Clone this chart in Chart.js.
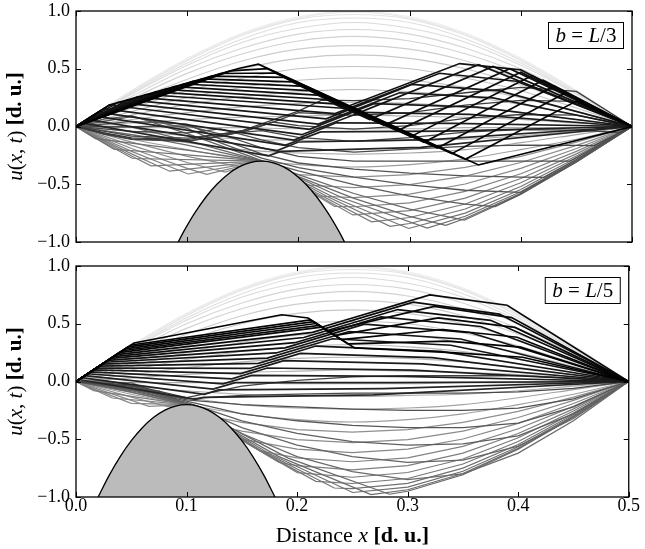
<!DOCTYPE html>
<html><head><meta charset="utf-8">
<script src="https://cdn.jsdelivr.net/npm/chart.js@4.4.0/dist/chart.umd.min.js"></script>
<style>
html,body{margin:0;padding:0;background:#fff}
#wrap{position:relative;width:645px;height:549px;background:#fff}
.pane{position:absolute;left:0;width:645px}
</style></head>
<body><div id="wrap">
<div class="pane" style="top:0;height:256px"><canvas id="c1" width="645" height="256"></canvas></div>
<div class="pane" style="top:255px;height:294px"><canvas id="c2" width="645" height="294"></canvas></div>
</div>
<script>
// ---------------- DATA ----------------
const xTickValues = [0, 0.1, 0.2, 0.3, 0.4, 0.5];
const xTickLabels = ['0.0', '0.1', '0.2', '0.3', '0.4', '0.5'];
const yTickValues = [-1, -0.5, 0, 0.5, 1];
const yTickLabels = ['\u22121.0', '\u22120.5', '0.0', '0.5', '1.0'];
const panelLabels = ['L/3', 'L/5'];

// early snapshots: standing half-sine arches (same in both panels)
const xGrid = [0, 0.05, 0.1, 0.15, 0.2, 0.25, 0.3, 0.35, 0.4, 0.45, 0.5];
const archY = [
  [0,.31,.59,.81,.95,1,.95,.81,.59,.31,0],
  [0,.31,.58,.80,.94,.99,.94,.80,.58,.31,0],
  [0,.30,.57,.79,.93,.97,.93,.79,.57,.30,0],
  [0,.29,.55,.76,.90,.94,.90,.76,.55,.29,0],
  [0,.28,.53,.73,.85,.90,.85,.73,.53,.28,0],
  [0,.26,.50,.68,.80,.84,.80,.68,.50,.26,0],
  [0,.24,.46,.63,.74,.78,.74,.63,.46,.24,0],
  [0,.22,.41,.57,.67,.70,.67,.57,.41,.22,0],
  [0,.19,.36,.50,.59,.62,.59,.50,.36,.19,0],
  [0,.16,.31,.42,.50,.52,.50,.42,.31,.16,0],
  [0,.13,.25,.34,.40,.42,.40,.34,.25,.13,0],
  [0,.10,.19,.26,.30,.32,.30,.26,.19,.10,0],
  [0,.06,.12,.17,.20,.21,.20,.17,.12,.06,0],
  [0,.03,.06,.08,.09,.10,.09,.08,.06,.03,0],
  [0,-.01,-.01,-.01,-.02,-.02,-.02,-.01,-.01,-.01,0],
  [0,-.04,-.08,-.11,-.12,-.13,-.12,-.11,-.08,-.04,0],
  [0,-.07,-.14,-.20,-.23,-.24,-.23,-.20,-.14,-.07,0],
  [0,-.11,-.20,-.28,-.33,-.35,-.33,-.28,-.20,-.11,0]
];

// top panel (b = L/3): string held on the obstacle tip
const topPinned = [
  [[0,0],[0.05,-0.135],[0.1,-0.258],[0.151,-0.356],[0.167,-0.3],[0.1825,-0.399],[0.2,-0.417],[0.25,-0.438],[0.3,-0.417],[0.35,-0.354],[0.4,-0.258],[0.45,-0.135],[0.5,0]],
  [[0,0],[0.05,-0.164],[0.1,-0.312],[0.134,-0.395],[0.167,-0.3],[0.199,-0.503],[0.25,-0.53],[0.3,-0.504],[0.35,-0.429],[0.4,-0.312],[0.45,-0.164],[0.5,0]],
  [[0,0],[0.05,-0.19],[0.1,-0.362],[0.1175,-0.415],[0.167,-0.3],[0.191,-0.452],[0.216,-0.602],[0.25,-0.616],[0.3,-0.586],[0.35,-0.498],[0.4,-0.362],[0.45,-0.19],[0.5,0]],
  [[0,0],[0.05,-0.215],[0.1008,-0.411],[0.167,-0.3],[0.2,-0.502],[0.2325,-0.691],[0.25,-0.695],[0.3,-0.661],[0.35,-0.562],[0.4,-0.409],[0.45,-0.215],[0.5,0]],
  [[0,0],[0.05,-0.237],[0.0842,-0.387],[0.167,-0.3],[0.208,-0.543],[0.249,-0.766],[0.3,-0.728],[0.35,-0.62],[0.4,-0.45],[0.45,-0.237],[0.5,0]],
  [[0,0],[0.05,-0.256],[0.0675,-0.341],[0.167,-0.3],[0.216,-0.574],[0.2658,-0.825],[0.3,-0.788],[0.35,-0.671],[0.4,-0.487],[0.45,-0.256],[0.5,0]],
  [[0,0],[0.025,-0.138],[0.0509,-0.277],[0.167,-0.3],[0.225,-0.602],[0.2825,-0.865],[0.3,-0.84],[0.35,-0.714],[0.4,-0.519],[0.45,-0.273],[0.5,0]],
  [[0,0],[0.034,-0.197],[0.1,-0.245],[0.167,-0.3],[0.233,-0.619],[0.2992,-0.883],[0.35,-0.75],[0.4,-0.545],[0.45,-0.286],[0.5,0]],
  [[0,0],[0.0175,-0.105],[0.1,-0.205],[0.167,-0.3],[0.241,-0.623],[0.3158,-0.88],[0.35,-0.777],[0.4,-0.565],[0.45,-0.297],[0.5,0]],
  [[0,0],[0.05,-0.071],[0.1,-0.161],[0.15,-0.265],[0.167,-0.3],[0.2,-0.434],[0.25,-0.622],[0.3,-0.778],[0.3325,-0.855],[0.35,-0.797],[0.4,-0.579],[0.45,-0.304],[0.5,0]],
  [[0,0],[0.05,-0.006],[0.1,-0.122],[0.15,-0.254],[0.167,-0.3],[0.2,-0.417],[0.25,-0.58],[0.3,-0.716],[0.3492,-0.811],[0.4,-0.587],[0.45,-0.308],[0.5,0]]
];
// top panel: string released from the obstacle
const topRelease = [
  [[0,0],[0.025,0.064],[0.05,0.094],[0.1,-0.061],[0.13,-0.166],[0.167,-0.295],[0.2,-0.385],[0.25,-0.504],[0.3,-0.602],[0.35,-0.672],[0.377,-0.694],[0.4,-0.585],[0.45,-0.307],[0.5,0]],
  [[0,0],[0.025,0.044],[0.05,0.085],[0.1,-0.017],[0.13,-0.141],[0.167,-0.274],[0.2,-0.357],[0.25,-0.438],[0.3,-0.505],[0.35,-0.552],[0.4,-0.57],[0.45,-0.3],[0.5,0]],
  [[0,0],[0.025,0.021],[0.05,0.044],[0.1,0.02],[0.13,-0.11],[0.167,-0.237],[0.2,-0.316],[0.25,-0.369],[0.3,-0.404],[0.35,-0.427],[0.4,-0.438],[0.421,-0.44],[0.45,-0.286],[0.5,0]],
  [[0,0],[0.025,0.0],[0.05,-0.001],[0.1,0.005],[0.13,-0.065],[0.167,-0.184],[0.2,-0.258],[0.25,-0.3],[0.3,-0.3],[0.35,-0.3],[0.4,-0.3],[0.444,-0.299],[0.45,-0.268],[0.5,0]],
  [[0,0],[0.025,-0.021],[0.05,-0.043],[0.1,-0.056],[0.13,-0.021],[0.167,-0.116],[0.2,-0.183],[0.25,-0.222],[0.3,-0.196],[0.35,-0.172],[0.4,-0.161],[0.45,-0.164],[0.466,-0.166],[0.5,0]],
  [[0,0],[0.025,-0.04],[0.05,-0.083],[0.1,-0.1],[0.125,-0.071],[0.167,-0.036],[0.2,-0.095],[0.25,-0.129],[0.3,-0.096],[0.35,-0.048],[0.4,-0.027],[0.45,-0.031],[0.488,-0.052],[0.5,0]],
  [[0,0],[0.025,-0.062],[0.05,-0.107],[0.1,-0.124],[0.13,-0.087],[0.15,-0.043],[0.177,0.039],[0.2,0.007],[0.25,-0.022],[0.3,0.007],[0.35,0.071],[0.4,0.104],[0.45,0.098],[0.5,0]],
  [[0,0],[0.025,-0.066],[0.05,-0.111],[0.1,-0.128],[0.15,-0.046],[0.177,0.035],[0.2,0.12],[0.25,0.097],[0.3,0.12],[0.35,0.185],[0.4,0.227],[0.45,0.218],[0.5,0]],
  [[0,0],[0.028,-0.06],[0.05,-0.098],[0.1,-0.113],[0.15,-0.034],[0.2,0.134],[0.221,0.229],[0.25,0.224],[0.3,0.241],[0.361,0.303],[0.4,0.339],[0.45,0.304],[0.5,0]]
];
// top panel: late, black snapshots (kinked travelling shapes)
const topLattice = [
  [[0,0],[0.005,0.031],[0.173,-0.254],[0.184,-0.216],[0.31,-0.18],[0.5,0]],
  [[0,0],[0.01,0.062],[0.181,-0.208],[0.2,-0.134],[0.32,-0.114],[0.5,0]],
  [[0,0],[0.015,0.093],[0.188,-0.163],[0.22,-0.047],[0.332,-0.04],[0.5,0]],
  [[0,0],[0.02,0.124],[0.196,-0.117],[0.234,0.032],[0.34,0.027],[0.5,0]],
  [[0,0],[0.025,0.155],[0.203,-0.071],[0.256,0.123],[0.354,0.105],[0.5,0]],
  [[0,0],[0.03,0.186],[0.21,-0.025],[0.268,0.198],[0.361,0.168],[0.5,0]],
  [[0,0],[0.038,0.209],[0.218,0.021],[0.291,0.292],[0.375,0.248],[0.5,0]],
  [[0,0],[0.047,0.231],[0.225,0.066],[0.302,0.364],[0.381,0.309],[0.5,0]],
  [[0,0],[0.055,0.254],[0.233,0.112],[0.327,0.461],[0.396,0.392],[0.5,0]],
  [[0,0],[0.063,0.277],[0.24,0.158],[0.345,0.545],[0.4,0.49],[0.5,0]],
  [[0,0],[0.072,0.3],[0.232,0.196],[0.252,0.109],[0.362,0.535],[0.5,0]],
  [[0,0],[0.08,0.322],[0.225,0.234],[0.264,0.06],[0.375,0.52],[0.5,0]],
  [[0,0],[0.0885,0.345],[0.217,0.272],[0.277,0.011],[0.39,0.5],[0.5,0]],
  [[0,0],[0.097,0.368],[0.21,0.31],[0.289,-0.038],[0.4,0.47],[0.5,0]],
  [[0,0],[0.105,0.39],[0.202,0.349],[0.301,-0.088],[0.41,0.44],[0.5,0]],
  [[0,0],[0.114,0.413],[0.194,0.387],[0.313,-0.137],[0.42,0.4],[0.5,0]],
  [[0,0],[0.122,0.436],[0.187,0.425],[0.325,-0.186],[0.43,0.35],[0.5,0]],
  [[0,0],[0.13,0.459],[0.179,0.463],[0.338,-0.235],[0.44,0.29],[0.5,0]],
  [[0,0],[0.139,0.481],[0.172,0.501],[0.35,-0.284],[0.45,0.22],[0.5,0]],
  [[0,0],[0.03,0.186],[0.147,0.504],[0.164,0.539],[0.362,-0.333],[0.5,0]]
];

// bottom panel (b = L/5)
const botPinned = [
  [[0,0],[0.05,-0.135],[0.083,-0.218],[0.1,-0.2],[0.117,-0.294],[0.15,-0.354],[0.2,-0.417],[0.25,-0.438],[0.3,-0.417],[0.35,-0.354],[0.4,-0.258],[0.45,-0.135],[0.5,0]],
  [[0,0],[0.05,-0.164],[0.066,-0.215],[0.1,-0.2],[0.134,-0.394],[0.15,-0.429],[0.2,-0.504],[0.25,-0.53],[0.3,-0.504],[0.35,-0.429],[0.4,-0.312],[0.45,-0.164],[0.5,0]],
  [[0,0],[0.025,-0.096],[0.05,-0.189],[0.1,-0.2],[0.15,-0.499],[0.2,-0.586],[0.25,-0.616],[0.3,-0.586],[0.35,-0.498],[0.4,-0.362],[0.45,-0.19],[0.5,0]],
  [[0,0],[0.033,-0.143],[0.1,-0.2],[0.167,-0.603],[0.2,-0.661],[0.25,-0.695],[0.3,-0.661],[0.35,-0.562],[0.4,-0.409],[0.45,-0.215],[0.5,0]],
  [[0,0],[0.016,-0.079],[0.1,-0.2],[0.142,-0.46],[0.1836,-0.7],[0.2,-0.728],[0.25,-0.766],[0.3,-0.728],[0.35,-0.62],[0.4,-0.45],[0.45,-0.237],[0.5,0]],
  [[0,0],[0.05,-0.094],[0.1,-0.2],[0.15,-0.509],[0.2003,-0.789],[0.25,-0.829],[0.3,-0.788],[0.35,-0.671],[0.4,-0.487],[0.45,-0.256],[0.5,0]],
  [[0,0],[0.025,0.0],[0.05,-0.064],[0.075,-0.131],[0.1,-0.2],[0.158,-0.553],[0.2169,-0.864],[0.25,-0.883],[0.3,-0.84],[0.35,-0.714],[0.4,-0.519],[0.45,-0.273],[0.5,0]],
  [[0,0],[0.025,0.011],[0.05,-0.036],[0.075,-0.117],[0.1,-0.2],[0.167,-0.595],[0.2336,-0.922],[0.25,-0.927],[0.3,-0.882],[0.35,-0.75],[0.4,-0.545],[0.45,-0.286],[0.5,0]],
  [[0,0],[0.025,-0.005],[0.05,-0.01],[0.075,-0.103],[0.1,-0.2],[0.175,-0.626],[0.2503,-0.961],[0.3,-0.914],[0.35,-0.777],[0.4,-0.565],[0.45,-0.297],[0.5,0]],
  [[0,0],[0.025,-0.021],[0.05,-0.043],[0.075,-0.091],[0.1,-0.2],[0.183,-0.648],[0.2669,-0.979],[0.3,-0.937],[0.35,-0.797],[0.4,-0.579],[0.45,-0.304],[0.5,0]],
  [[0,0],[0.025,-0.038],[0.05,-0.075],[0.075,-0.08],[0.1,-0.2],[0.192,-0.663],[0.2836,-0.976],[0.3,-0.95],[0.35,-0.807],[0.4,-0.587],[0.45,-0.308],[0.5,0]]
];
const botRelease = [
  [[0,0],[0.05,-0.09],[0.1,-0.2],[0.15,-0.45],[0.2,-0.65],[0.25,-0.78],[0.3,-0.85],[0.35,-0.8],[0.4,-0.62],[0.45,-0.34],[0.5,0]],
  [[0,0],[0.05,-0.08],[0.1,-0.19],[0.15,-0.4],[0.2,-0.55],[0.25,-0.65],[0.3,-0.7],[0.35,-0.68],[0.4,-0.56],[0.45,-0.32],[0.5,0]],
  [[0,0],[0.05,-0.07],[0.1,-0.18],[0.15,-0.34],[0.2,-0.45],[0.25,-0.52],[0.3,-0.55],[0.35,-0.54],[0.4,-0.47],[0.45,-0.28],[0.5,0]],
  [[0,0],[0.05,-0.06],[0.1,-0.17],[0.15,-0.28],[0.2,-0.34],[0.25,-0.38],[0.3,-0.4],[0.35,-0.4],[0.4,-0.36],[0.45,-0.22],[0.5,0]],
  [[0,0],[0.05,-0.05],[0.1,-0.16],[0.15,-0.2],[0.2,-0.22],[0.25,-0.24],[0.3,-0.25],[0.35,-0.25],[0.4,-0.23],[0.45,-0.15],[0.5,0]],
  [[0,0],[0.05,-0.04],[0.1,-0.15],[0.15,-0.12],[0.2,-0.11],[0.25,-0.1],[0.3,-0.1],[0.35,-0.1],[0.4,-0.09],[0.45,-0.06],[0.5,0]],
  [[0,0],[0.05,-0.03],[0.1,-0.14],[0.15,-0.04],[0.2,0.01],[0.25,0.04],[0.3,0.05],[0.35,0.05],[0.4,0.05],[0.45,0.03],[0.5,0]]
];
const botLattice = [
  [[0,0],[0.0026,0.017],[0.108,-0.155],[0.115,-0.137],[0.269,-0.116],[0.5,0]],
  [[0,0],[0.005,0.033],[0.116,-0.111],[0.129,-0.073],[0.278,-0.062],[0.5,0]],
  [[0,0],[0.0079,0.05],[0.124,-0.066],[0.144,-0.01],[0.286,-0.009],[0.5,0]],
  [[0,0],[0.0105,0.067],[0.133,-0.021],[0.159,0.053],[0.295,0.045],[0.5,0]],
  [[0,0],[0.013,0.083],[0.141,0.023],[0.173,0.117],[0.304,0.099],[0.5,0]],
  [[0,0],[0.016,0.1],[0.149,0.068],[0.188,0.18],[0.313,0.153],[0.5,0]],
  [[0,0],[0.018,0.117],[0.157,0.113],[0.203,0.243],[0.322,0.207],[0.5,0]],
  [[0,0],[0.021,0.133],[0.165,0.157],[0.217,0.307],[0.33,0.261],[0.5,0]],
  [[0,0],[0.024,0.15],[0.173,0.202],[0.232,0.37],[0.339,0.314],[0.5,0]],
  [[0,0],[0.026,0.167],[0.181,0.247],[0.247,0.433],[0.348,0.368],[0.5,0]],
  [[0,0],[0.029,0.183],[0.189,0.291],[0.261,0.497],[0.357,0.422],[0.5,0]],
  [[0,0],[0.0315,0.2],[0.198,0.336],[0.276,0.56],[0.366,0.476],[0.5,0]],
  [[0,0],[0.034,0.216],[0.206,0.381],[0.291,0.623],[0.375,0.53],[0.5,0]],
  [[0,0],[0.037,0.233],[0.214,0.425],[0.305,0.687],[0.383,0.584],[0.5,0]],
  [[0,0],[0.039,0.25],[0.222,0.47],[0.32,0.75],[0.39,0.66],[0.5,0]],
  [[0,0],[0.042,0.266],[0.22,0.486],[0.228,0.434],[0.324,0.65],[0.394,0.553],[0.5,0]],
  [[0,0],[0.0446,0.283],[0.217,0.502],[0.234,0.398],[0.328,0.55],[0.397,0.468],[0.5,0]],
  [[0,0],[0.047,0.3],[0.215,0.518],[0.24,0.362],[0.332,0.45],[0.399,0.383],[0.5,0]],
  [[0,0],[0.0499,0.316],[0.212,0.534],[0.246,0.326],[0.336,0.35],[0.402,0.298],[0.5,0]],
  [[0,0],[0.0525,0.333],[0.186,0.578],[0.21,0.55],[0.252,0.29],[0.34,0.25],[0.404,0.21],[0.5,0]]
];

// obstacles (parabolic bumps)
const obstacleTop = [[0.0919,-1],[0.0967,-0.9125],[0.1067,-0.75],[0.1167,-0.6125],[0.1267,-0.5],[0.1367,-0.4125],[0.1467,-0.35],[0.1567,-0.3125],[0.1667,-0.3],[0.1767,-0.3125],[0.1867,-0.35],[0.1967,-0.4125],[0.2067,-0.5],[0.2167,-0.6125],[0.2267,-0.75],[0.2367,-0.9125],[0.2415,-1]];
const obstacleBot = [[0.02,-1],[0.03,-0.8125],[0.04,-0.65],[0.05,-0.5125],[0.06,-0.4],[0.07,-0.3125],[0.08,-0.25],[0.09,-0.2125],[0.1,-0.2],[0.11,-0.2125],[0.12,-0.25],[0.13,-0.3125],[0.14,-0.4],[0.15,-0.5125],[0.16,-0.65],[0.17,-0.8125],[0.18,-1]];

// ---------------- BUILD ----------------
const FAM = '"Liberation Serif","DejaVu Serif",serif';
function gray(g){const v=Math.round(255*g);return 'rgb('+v+','+v+','+v+')';}
function pts(a){return a.map(p=>({x:p[0],y:p[1]}));}

function buildDatasets(groups, obstacle){
  const ds=[]; let t=0;
  groups.forEach(gr=>{
    const n=gr.lines.length;
    gr.lines.forEach((line,i)=>{
      const f=n>1?i/(n-1):0;
      ds.push({data:pts(line),borderColor:gray(gr.g0+(gr.g1-gr.g0)*f),borderWidth:gr.w,
        pointRadius:0,showLine:true,fill:false,tension:0,
        cubicInterpolationMode:gr.smooth?'monotone':'default',order:-(t++)});
    });
  });
  ds.push({data:pts(obstacle),borderColor:'#000',borderWidth:1.3,backgroundColor:'#bbbbbb',
    fill:'start',pointRadius:0,showLine:true,tension:0,cubicInterpolationMode:'monotone',order:-10000});
  return ds;
}

function rich(ctx,parts,cx,cy,size){
  const fonts=parts.map(p=>(p[1]==='i'?'italic ':p[1]==='b'?'bold ':'')+size+'px '+FAM);
  let w=0;const ws=parts.map((p,i)=>{ctx.font=fonts[i];const m=ctx.measureText(p[0]).width;w+=m;return m;});
  let xx=cx-w/2;ctx.textBaseline='middle';ctx.textAlign='left';ctx.fillStyle='#000';
  parts.forEach((p,i)=>{ctx.font=fonts[i];ctx.fillText(p[0],xx,cy);xx+=ws[i];});
}

const framePlugin={
  id:'framePlugin',
  afterDatasetsDraw(chart,args,opts){
    const ctx=chart.ctx,a=chart.chartArea,x=chart.scales.x,y=chart.scales.y;
    ctx.save();ctx.strokeStyle='#000';
    ctx.lineWidth=1;ctx.beginPath();
    xTickValues.forEach(v=>{const px=Math.round(x.getPixelForValue(v))+0.5;ctx.moveTo(px,a.top);ctx.lineTo(px,a.top+5);ctx.moveTo(px,a.bottom);ctx.lineTo(px,a.bottom-5);});
    yTickValues.forEach(v=>{const py=Math.round(y.getPixelForValue(v))+0.5;ctx.moveTo(a.left,py);ctx.lineTo(a.left+5,py);ctx.moveTo(a.right,py);ctx.lineTo(a.right-5,py);});
    ctx.stroke();
    ctx.lineWidth=1.3;ctx.strokeRect(a.left,a.top,a.right-a.left,a.bottom-a.top);
    const bx=a.right-83.5,by=a.top+11.5,bw=75,bh=26;
    ctx.fillStyle='#fff';ctx.fillRect(bx,by,bw,bh);ctx.lineWidth=1;ctx.strokeRect(bx,by,bw,bh);
    rich(ctx,[['b','i'],[' = ',''],['L','i'],[opts.label.slice(1),'']],bx+bw/2,by+bh/2+1,21);
    ctx.save();ctx.translate(16,(a.top+a.bottom)/2);ctx.rotate(-Math.PI/2);
    rich(ctx,[['u','i'],['(',''],['x','i'],[', ',''],['t','i'],[') ',''],['[d. u.]','b']],0,0,21);
    ctx.restore();
    if(opts.xTitle){rich(ctx,[['Distance ',''],['x','i'],[' [d. u.]','b']],(a.left+a.right)/2,a.bottom+39,22);}
    ctx.restore();
  }
};

function makeChart(id,groups,obstacle,label,isBottom){
  new Chart(document.getElementById(id),{
    type:'scatter',
    data:{datasets:buildDatasets(groups,obstacle)},
    plugins:[framePlugin],
    options:{
      responsive:false,animation:false,events:[],
      layout:{padding:{left:0,right:13,top:11,bottom:0}},
      plugins:{legend:{display:false},tooltip:{enabled:false},framePlugin:{label:label,xTitle:isBottom}},
      scales:{
        x:{type:'linear',min:0,max:0.5,
          afterBuildTicks:s=>{s.ticks=xTickValues.map(v=>({value:v}));},
          afterFit:s=>{s.height=isBottom?52:14;},
          ticks:{display:isBottom,autoSkip:false,maxRotation:0,padding:5,color:'#000',
            font:{family:FAM,size:18,lineHeight:0.5},callback:(v,i)=>xTickLabels[i]},
          grid:{display:false,drawTicks:false},border:{display:false}},
        y:{type:'linear',min:-1,max:1,
          afterBuildTicks:s=>{s.ticks=yTickValues.map(v=>({value:v}));},
          afterFit:s=>{s.width=76;},
          ticks:{padding:6,color:'#000',font:{family:FAM,size:18,lineHeight:0.5},callback:(v,i)=>yTickLabels[i]},
          grid:{display:false,drawTicks:false},border:{display:false}}
      }
    }
  });
}

const archLines=archY.map(r=>r.map((y,i)=>[xGrid[i],y]));
makeChart('c1',[
  {lines:archLines,g0:0.93,g1:0.62,w:1.1,smooth:true},
  {lines:topPinned,g0:0.56,g1:0.40,w:1.2},
  {lines:topRelease,g0:0.36,g1:0.22,w:1.3},
  {lines:topLattice,g0:0.14,g1:0.0,w:1.7}
],obstacleTop,panelLabels[0],false);
makeChart('c2',[
  {lines:archLines,g0:0.93,g1:0.62,w:1.1,smooth:true},
  {lines:botPinned,g0:0.56,g1:0.40,w:1.2},
  {lines:botRelease,g0:0.42,g1:0.26,w:1.3},
  {lines:botLattice,g0:0.14,g1:0.0,w:1.7}
],obstacleBot,panelLabels[1],true);
</script>
</body></html>
